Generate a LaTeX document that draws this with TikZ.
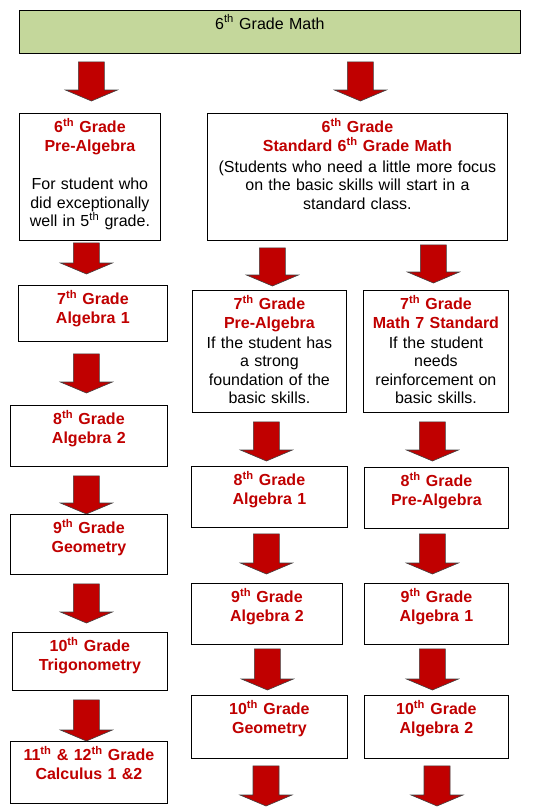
\documentclass[tikz,border=0pt]{standalone}
\usepackage{fontspec}
\setmainfont{Liberation Sans}
\usepackage{tikz}
\usetikzlibrary{calc}

\definecolor{gradered}{HTML}{C00000}
\definecolor{barfill}{HTML}{C4D79B}

\newcommand{\gth}[1]{#1\textsuperscript{th}}
\newcommand{\course}[2]{{\color{gradered}\bfseries #1 Grade\\#2}}

\tikzset{
  flow dx/.store in=\flowdx, flow dx=0pt,
  flow top/.store in=\flowtop, flow top=9pt,
  flow tip/.store in=\flowtip, flow tip=9pt
}

\begin{document}
\begin{tikzpicture}[
  x=1pt, y=-1pt,
  gbox/.style 2 args={draw, line width=0.8pt, fill=white, anchor=north west, align=center,
    inner sep=0pt, text height=19.5pt, text width=#1, text depth=#2,
    font=\fontsize{16}{18.5}\selectfont},
  topbox/.style={gbox={501pt}{24.3pt}, fill=barfill, text height=18.7pt},
  bigarrow/.style={draw=black!75, line width=0.6pt, fill=gradered,
    to path={let \p1=(\tikztostart), \p2=(\tikztotarget) in
      (\x2+\flowdx-13pt,\y1-\flowtop) -- (\x2+\flowdx+13pt,\y1-\flowtop)
      -- (\x2+\flowdx+13pt,\y2+\flowtip+11pt) -- (\x2+\flowdx+26pt,\y2+\flowtip+11pt)
      -- (\x2+\flowdx,\y2+\flowtip) -- (\x2+\flowdx-26pt,\y2+\flowtip+11pt)
      -- (\x2+\flowdx-13pt,\y2+\flowtip+11pt) -- cycle}}
]
\useasboundingbox (0,0) rectangle (533,812);

% 6th grade
\node[topbox] (top) at (19,10) {\gth{6} Grade Math};
\node[gbox={141pt}{107.5pt}] (prealg6) at (19,113)
  {\course{\gth{6}}{Pre-Algebra}\\[20pt]For student who\\did exceptionally\\well in \gth{5} grade.};
\node[gbox={300pt}{107.5pt}] (std6) at (207,113)
  {\course{\gth{6}}{Standard \gth{6} Grade Math}\\[2.5pt](Students who need a little more focus\\on the basic skills will start in a\\standard class.};

\draw[bigarrow, flow dx=1.5pt, flow top=8pt, flow tip=12pt] (top.south) to (prealg6.north);
\draw[bigarrow, flow dx=3pt, flow top=8pt, flow tip=12pt] (top.south) to (std6.north);

% left column
\node[gbox={149pt}{36.5pt}] (alg7) at (18,285) {\course{\gth{7}}{Algebra 1}};
\node[gbox={157pt}{41.5pt}] (alg8) at (10,405) {\course{\gth{8}}{Algebra 2}};
\node[gbox={157pt}{40.5pt}] (geo9) at (10,514) {\course{\gth{9}}{Geometry}};
\node[gbox={155pt}{38.5pt}] (trig10) at (12,632) {\course{\gth{10}}{Trigonometry}};
\node[gbox={157pt}{42.5pt}] (calc) at (10,741) {\course{\gth{11} \& \gth{12}}{Calculus 1 \&2}};

\draw[bigarrow, flow dx=-6.5pt, flow top=2pt, flow tip=11pt] (prealg6.south) to (alg7.north);
\draw[bigarrow, flow dx=-2.5pt, flow top=12pt, flow tip=12pt] (alg7.south) to (alg8.north);
\draw[bigarrow, flow dx=-2.5pt, flow top=9pt, flow tip=0pt] (alg8.south) to (geo9.north);
\draw[bigarrow, flow dx=-3.5pt, flow top=9pt, flow tip=9pt] (geo9.south) to (trig10.north);
\draw[bigarrow, flow dx=-2.5pt, flow top=9pt, flow tip=0pt] (trig10.south) to (calc.north);

% middle column
\node[gbox={154pt}{102.5pt}] (prealg7) at (192,290)
  {\course{\gth{7}}{Pre-Algebra}\\[1.5pt]If the student has\\a strong\\foundation of the\\basic skills.};
\node[gbox={156pt}{41.5pt}] (alg8m) at (191,466) {\course{\gth{8}}{Algebra 1}};
\node[gbox={151pt}{41.5pt}] (alg9m) at (191,583) {\course{\gth{9}}{Algebra 2}};
\node[gbox={156pt}{43.5pt}] (geo10) at (191,695) {\course{\gth{10}}{Geometry}};
\coordinate (endm) at (266,812);

\draw[bigarrow, flow dx=3pt, flow top=7pt, flow tip=4pt] (std6.south) to (prealg7.north);
\draw[bigarrow, flow dx=-3pt, flow top=9pt, flow tip=5pt] (prealg7.south) to (alg8m.north);
\draw[bigarrow, flow dx=-0.5pt, flow top=6pt, flow tip=9pt] (alg8m.south) to (alg9m.north);
\draw[bigarrow, flow dx=-2pt, flow top=4pt, flow tip=5pt] (alg9m.south) to (geo10.north);
\draw[bigarrow, flow top=7pt, flow tip=6pt] (geo10.south) to (endm);

% right column
\node[gbox={145pt}{102.5pt}] (math7) at (363,290)
  {\course{\gth{7}}{Math 7 Standard}\\[1.5pt]If the student\\needs\\reinforcement on\\basic skills.};
\node[gbox={144pt}{41.5pt}] (prealg8) at (364,467) {\course{\gth{8}}{Pre-Algebra}};
\node[gbox={144pt}{41.5pt}] (alg9r) at (364,583) {\course{\gth{9}}{Algebra 1}};
\node[gbox={144pt}{43.5pt}] (alg10r) at (364,695) {\course{\gth{10}}{Algebra 2}};
\coordinate (endr) at (437,812);

\draw[bigarrow, flow dx=-2.5pt, flow top=4pt, flow tip=7pt] (std6.south) to (math7.north);
\draw[bigarrow, flow dx=-4pt, flow top=9pt, flow tip=6pt] (math7.south) to (prealg8.north);
\draw[bigarrow, flow dx=-4pt, flow top=5pt, flow tip=9pt] (prealg8.south) to (alg9r.north);
\draw[bigarrow, flow dx=-4pt, flow top=4pt, flow tip=5pt] (alg9r.south) to (alg10r.north);
\draw[bigarrow, flow top=7pt, flow tip=6pt] (alg10r.south) to (endr);

\end{tikzpicture}
\end{document}
